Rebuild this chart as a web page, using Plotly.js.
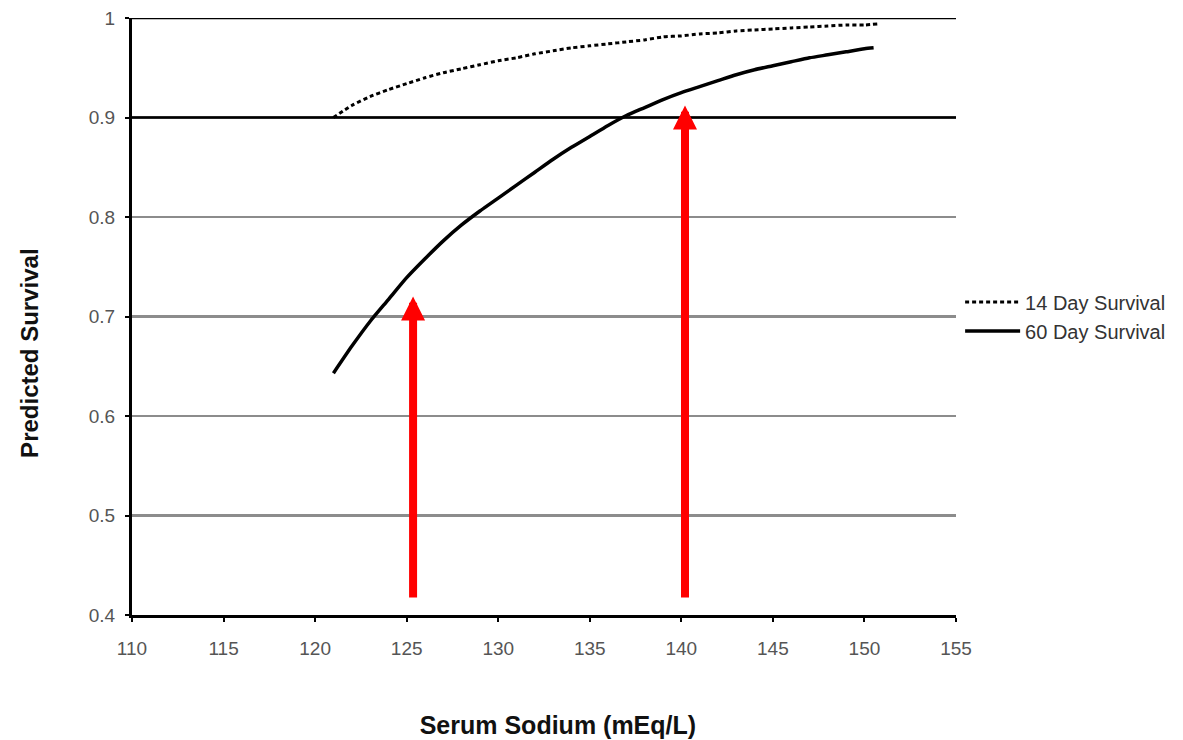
<!DOCTYPE html>
<html>
<head>
<meta charset="utf-8">
<script src="https://cdn.plot.ly/plotly-3.0.1.min.js"></script>
<style>html,body{margin:0;padding:0;background:#fff;}#chart{width:1183px;height:740px;}</style>
</head>
<body>
<div id="chart"></div>
<script>
// Serum sodium (mEq/L)
const sodium14 = [121, 122, 123, 124, 125, 126, 127, 128, 129, 130, 131, 132, 133, 134, 135, 136, 137, 138, 139, 140, 141, 142, 143, 144, 145, 146, 147, 148, 149, 150, 150.7];
const survival14 = [0.900, 0.912, 0.921, 0.928, 0.934, 0.940, 0.945, 0.949, 0.953, 0.957, 0.960, 0.964, 0.967, 0.970, 0.972, 0.974, 0.976, 0.978, 0.981, 0.982, 0.984, 0.985, 0.987, 0.988, 0.989, 0.990, 0.991, 0.992, 0.993, 0.993, 0.994];

const sodium60 = [121, 122, 123, 124, 125, 126, 127, 128, 129, 130, 131, 132, 133, 134, 135, 136, 137, 138, 139, 140, 141, 142, 143, 144, 145, 146, 147, 148, 149, 150, 150.5];
const survival60 = [0.643, 0.670, 0.695, 0.717, 0.739, 0.758, 0.776, 0.792, 0.806, 0.819, 0.832, 0.845, 0.858, 0.870, 0.881, 0.892, 0.902, 0.910, 0.918, 0.925, 0.931, 0.937, 0.943, 0.948, 0.952, 0.956, 0.960, 0.963, 0.966, 0.969, 0.970];

const seriesNames = ["14 Day Survival", "60 Day Survival"];

// Red arrows: x position, tail and tip values
const arrowX = [125.35, 140.2];
const arrowTail = [0.416, 0.416];
const arrowTip = [0.720, 0.912];

const yTicks = [0.4, 0.5, 0.6, 0.7, 0.8, 0.9, 1];
const xTicks = [110, 115, 120, 125, 130, 135, 140, 145, 150, 155];
const blackGridValues = [1, 0.9];

const xTitle = "Serum Sodium (mEq/L)";
const yTitle = "Predicted Survival";

const fontFam = 'Arial, "Liberation Sans", sans-serif';
const pad = n => '&nbsp;'.repeat(n);

const traces = [
  {
    x: sodium14, y: survival14, name: seriesNames[0], type: 'scatter', mode: 'lines',
    line: {color: '#000', width: 3, dash: '4px,3px', shape: 'spline', smoothing: 0.6}
  },
  {
    x: sodium60, y: survival60, name: seriesNames[1], type: 'scatter', mode: 'lines',
    line: {color: '#000', width: 3.5, shape: 'spline', smoothing: 0.6}
  }
];

const annotations = arrowX.map((x, i) => ({
  x: x, y: arrowTip[i], ax: x, ay: arrowTail[i],
  xref: 'x', yref: 'y', axref: 'x', ayref: 'y',
  text: '', showarrow: true, arrowhead: 2, arrowsize: 0.6, arrowwidth: 8,
  arrowcolor: '#ff0000', standoff: 0, startstandoff: 0
}));

const shapes = blackGridValues.map(v => ({
  type: 'line', xref: 'paper', yref: 'y', x0: 0, x1: 1, y0: v, y1: v,
  line: {color: '#000', width: 2.5}, layer: 'above'
}));

const layout = {
  width: 1183, height: 740,
  margin: {l: 132, r: 227, t: 18, b: 125},
  paper_bgcolor: '#fff', plot_bgcolor: '#fff',
  showlegend: true,
  legend: {
    x: 1.005, xanchor: 'left', y: 0.557, yanchor: 'top',
    font: {family: fontFam, size: 20, color: '#333'},
    bgcolor: 'rgba(0,0,0,0)', tracegroupgap: 0, itemwidth: 55
  },
  xaxis: {
    range: [110, 155], tickvals: xTicks, ticktext: xTicks.map(String),
    showgrid: false, zeroline: false,
    showline: true, linecolor: '#000', linewidth: 3,
    ticks: 'outside', ticklen: 4, tickwidth: 2, tickcolor: '#000',
    ticklabelstandoff: 10,
    tickfont: {family: fontFam, size: 19, color: '#555'},
    title: {text: '<b>' + pad(4) + xTitle + '</b>', font: {family: fontFam, size: 25, color: '#111'}, standoff: 59}
  },
  yaxis: {
    range: [0.4, 1], tickvals: yTicks, ticktext: yTicks.map(String),
    showgrid: true, gridcolor: '#8c8c8c', gridwidth: 2.5, zeroline: false,
    showline: true, linecolor: '#000', linewidth: 3,
    ticks: 'outside', ticklen: 4, tickwidth: 2, tickcolor: '#000',
    ticklabelstandoff: 6,
    tickfont: {family: fontFam, size: 19, color: '#555'},
    title: {text: '<b>' + yTitle + pad(11) + '</b>', font: {family: fontFam, size: 24, color: '#111'}, standoff: 44}
  },
  shapes: shapes,
  annotations: annotations
};

Plotly.newPlot('chart', traces, layout, {displayModeBar: false, staticPlot: true});
</script>
</body>
</html>
